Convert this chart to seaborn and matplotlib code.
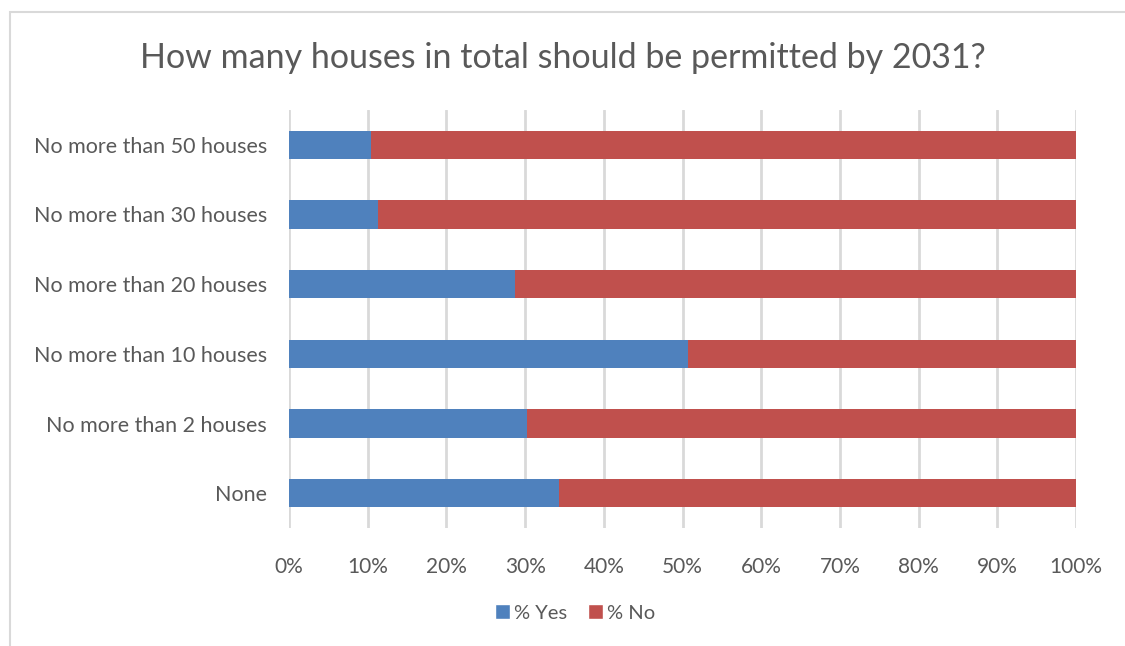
import matplotlib
matplotlib.use("Agg")
import matplotlib.pyplot as plt
from matplotlib.patches import Rectangle, Patch
from matplotlib.ticker import PercentFormatter
import seaborn as sns
import pandas as pd

categories = [
    "No more than 50 houses",
    "No more than 30 houses",
    "No more than 20 houses",
    "No more than 10 houses",
    "No more than 2 houses",
    "None",
]
pct_yes = [10.4, 11.3, 28.7, 50.7, 30.2, 34.3]
pct_no = [100 - v for v in pct_yes]

title = "How many houses in total should be permitted by 2031?"
blue = "#4F81BD"
red = "#C0504D"
text_color = "#595959"
grid_color = "#D9D9D9"

sns.set_theme(style="white")
plt.rcParams["font.family"] = ["Lato", "DejaVu Sans"]

df = pd.DataFrame({"category": categories, "yes": pct_yes, "no": pct_no})
df["total"] = df["yes"] + df["no"]

W, H = 1125, 646
fig = plt.figure(figsize=(W / 100, H / 100), dpi=100)
ax = fig.add_axes([289 / W, 1 - 528 / H, (1076 - 289) / W, (528 - 110) / H])

sns.barplot(data=df, y="category", x="total", color=red, width=0.41,
            orient="h", ax=ax, saturation=1, linewidth=0)
sns.barplot(data=df, y="category", x="yes", color=blue, width=0.41,
            orient="h", ax=ax, saturation=1, linewidth=0)

ax.set_xlim(0, 100)
ax.set_ylim(len(categories) - 0.5, -0.5)
ax.set_xticks(range(0, 101, 10))
ax.xaxis.set_major_formatter(PercentFormatter(decimals=0))
ax.grid(axis="x", color=grid_color, linewidth=2)
ax.set_axisbelow(True)
for s in ax.spines.values():
    s.set_visible(False)
ax.set_xlabel("")
ax.set_ylabel("")
ax.tick_params(axis="x", length=0, pad=21, labelsize=15, labelcolor=text_color)
ax.tick_params(axis="y", length=0, pad=16, labelsize=15.5, labelcolor=text_color)

fig.text(0.5, 1 - 58 / H, title, ha="center", va="center",
         fontsize=24.5, color=text_color)

handles = [Patch(facecolor=blue, label="% Yes"), Patch(facecolor=red, label="% No")]
fig.legend(handles=handles, loc="center", bbox_to_anchor=(575 / W, 1 - 613 / H),
           ncol=2, frameon=False, fontsize=14.5, labelcolor=text_color,
           handlelength=0.75, handleheight=0.75, handletextpad=0.2, columnspacing=1.0)

# outer chart frame
fig.patches.append(Rectangle((10 / W, -0.05), 1.2, 1 - 12 / H + 0.05,
                             transform=fig.transFigure, fill=False,
                             edgecolor="#D9D9D9", linewidth=1.5))

fig.savefig("out.png", dpi=100)
